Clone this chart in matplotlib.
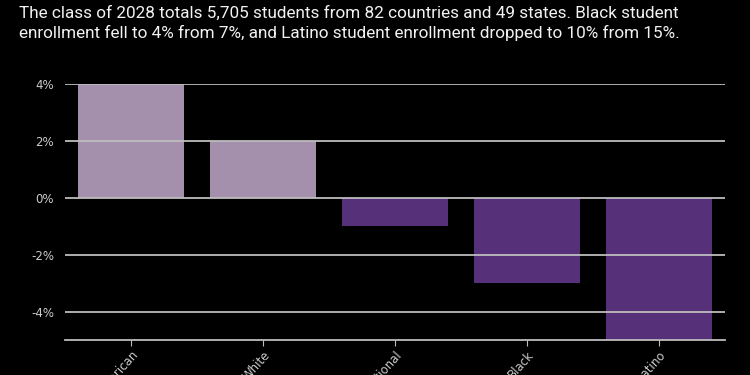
import matplotlib
matplotlib.use("Agg")
import matplotlib.pyplot as plt

# enrollment change, percentage points
groups = ["Asian American", "White", "International", "Black", "Latino"]
change = [4, 2, -1, -3, -5]
yticks = [-4, -2, 0, 2, 4]

light = "#A48FAD"
dark = "#56317A"
colors = [light if v > 0 else dark for v in change]

fig = plt.figure(figsize=(7.5, 3.75), dpi=100, facecolor="black")
ax = fig.add_axes([0.0867, 0.0933, 0.88, 0.683], facecolor="black")

ax.bar(range(len(groups)), change, width=0.8, color=colors, zorder=1)

ax.set_xlim(-0.5, 4.5)
ax.set_ylim(-5, 4)
ax.set_yticks(yticks)
ax.set_yticklabels([f"{v}%" for v in yticks])
ax.yaxis.grid(True, color="#BDBDBD", linewidth=1.3, zorder=3)
ax.set_axisbelow(False)

ax.set_xticks(range(len(groups)))
ax.set_xticklabels(groups, rotation=48, ha="right", rotation_mode="anchor")
ax.tick_params(axis="x", colors="#BDBDBD", labelcolor="#CCCCCC", length=4,
               labelsize=8.5, pad=2)
ax.tick_params(axis="y", length=0, labelcolor="#CCCCCC", labelsize=8.5, pad=8)

for s in ["top", "right", "left"]:
    ax.spines[s].set_visible(False)
ax.spines["bottom"].set_color("#BDBDBD")
ax.spines["bottom"].set_linewidth(1.3)

fig.text(0.025, 0.985,
         "The class of 2028 totals 5,705 students from 82 countries and 49 states. Black student\n"
         "enrollment fell to 4% from 7%, and Latino student enrollment dropped to 10% from 15%.",
         color="#F2F2F2", fontsize=12.3, ha="left", va="top", linespacing=1.35,
         family=["Roboto", "DejaVu Sans"])

fig.savefig("out.png", dpi=100, facecolor="black")
